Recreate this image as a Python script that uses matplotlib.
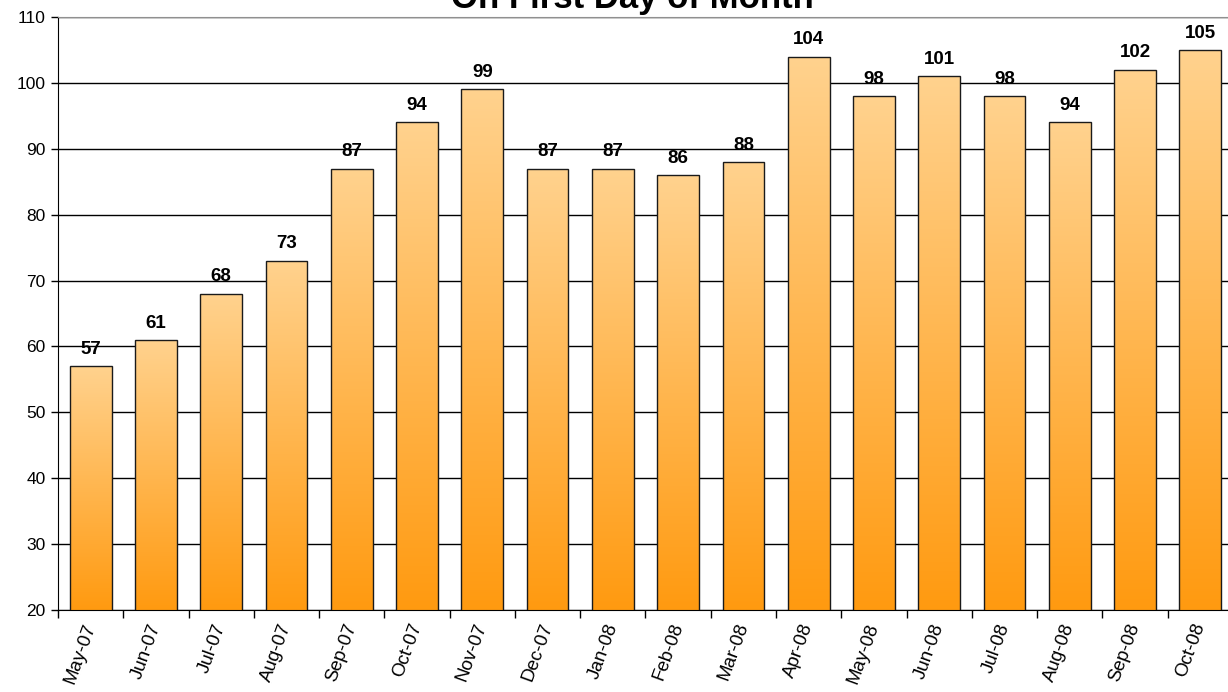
import matplotlib
matplotlib.use("Agg")
import matplotlib.pyplot as plt
import numpy as np
from matplotlib.colors import LinearSegmentedColormap

plt.rcParams["font.family"] = ["Liberation Sans", "DejaVu Sans"]

months = ["May-07", "Jun-07", "Jul-07", "Aug-07", "Sep-07", "Oct-07", "Nov-07",
          "Dec-07", "Jan-08", "Feb-08", "Mar-08", "Apr-08", "May-08", "Jun-08",
          "Jul-08", "Aug-08", "Sep-08", "Oct-08"]
counts = [57, 61, 68, 73, 87, 94, 99, 87, 87, 86, 88, 104, 98, 101, 98, 94, 102, 105]
title = "On First Day of Month"

fig = plt.figure(figsize=(12.28, 6.92), dpi=100)
ax = fig.add_axes([58 / 1228, 82 / 692, 1175 / 1228, 593 / 692])

x = np.arange(len(months))
bars = ax.bar(x, counts, width=0.64, bottom=0, color="none", edgecolor="#1a1a1a",
              linewidth=1.0, zorder=3)

ax.set_xlim(-0.5, len(months) - 0.5)
ax.set_ylim(20, 110)

# light-to-orange gradient inside each bar
cmap = LinearSegmentedColormap.from_list("grad", ["#FF9A10", "#FFD28E"])
grad = np.linspace(0, 1, 256).reshape(-1, 1)
for b in bars:
    x0, w, h = b.get_x(), b.get_width(), b.get_height()
    im = ax.imshow(grad, cmap=cmap, origin="lower", aspect="auto",
                   extent=[x0, x0 + w, 20, h], zorder=2)
    im.set_clip_path(b)

for xi, v in zip(x, counts):
    ax.annotate(str(v), (xi, v), xytext=(0, 6), textcoords="offset points",
                ha="center", va="bottom", fontsize=13.5, fontweight="bold", zorder=4)

ax.set_yticks(np.arange(20, 111, 10))
ax.yaxis.grid(True, color="black", linewidth=1.0, zorder=1)
ax.set_axisbelow(True)

ax.set_xticks(np.arange(-0.5, len(months), 1.0))
ax.set_xticklabels([])
ax.set_xticks(x, minor=True)
ax.set_xticklabels(months, minor=True, rotation=70, ha="right", va="center",
                   rotation_mode="anchor", fontsize=13.5)
ax.tick_params(axis="x", which="minor", length=0, pad=10)
ax.tick_params(axis="x", which="major", length=6, width=1, direction="out")
ax.tick_params(axis="y", length=5, width=1, labelsize=12.5, colors="black", pad=4)

ax.spines["right"].set_visible(False)
ax.spines["top"].set_color("#909090")
ax.spines["left"].set_color("black")
ax.spines["bottom"].set_color("black")

fig.text(632 / 1228, (692 - 8) / 692, title, ha="center", va="baseline",
         fontsize=25, fontweight="bold")

fig.savefig("out.png", dpi=100)
